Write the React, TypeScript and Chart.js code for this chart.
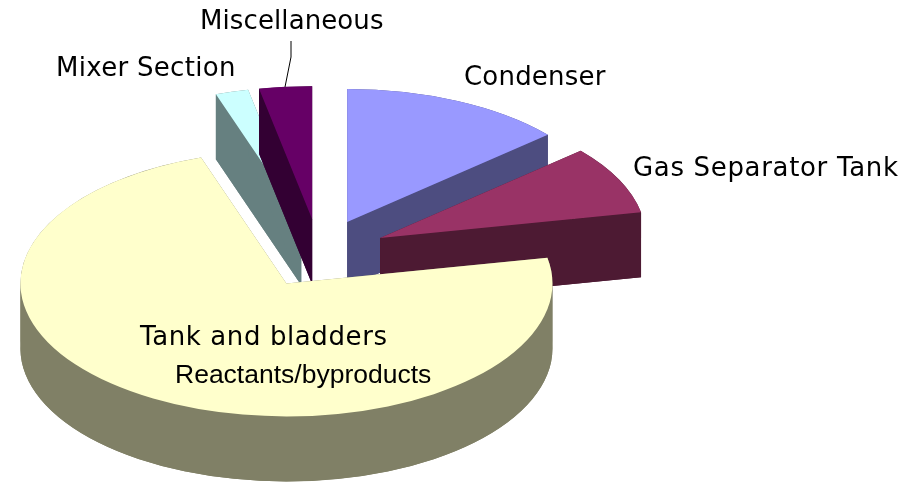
import React, { useEffect, useRef } from "react";
import { Chart, registerables } from "chart.js";

Chart.register(...registerables);

const categories = ["Condenser", "Gas Separator Tank", "Tank and bladders", "Mixer Section", "Miscellaneous"];
const values = [13.6, 8.3, 72.9, 2, 3.2];
const topColors = ["#9999FF", "#993366", "#FFFFCC", "#CCFFFF", "#660066"];
const sideColors = ["#4D4D80", "#4D1A33", "#808066", "#668080", "#330033"];
const extraLabel = "Reactants/byproducts";

// view of the tilted pie
const CENTER_X = 319;
const CENTER_Y = 253;
const TILT = 0.5;
const RADIUS = 266;
const EXPLODE = 68;
const DEPTH = 65;
const PAINT_ORDER = [0, 1, 3, 4, 2];
const NUDGE: Record<number, [number, number]> = { 2: [1.5, 1] };

const LABEL_FONT = '26px "DejaVu Sans"';
const LABEL_SPOTS: Record<string, [number, number, string]> = {
  Condenser: [464, 85, "0.2px"],
  "Gas Separator Tank": [633, 176, "0.67px"],
  "Tank and bladders": [140, 345, "0.6px"],
  "Mixer Section": [56, 76, "0.3px"],
  Miscellaneous: [200, 29, "0.1px"],
};

const tiltedPie = {
  id: "tiltedPie",
  beforeDatasetDraw(chart: any, args: any) {
    const { ctx } = chart;
    const arcs = args.meta.data;
    for (const i of PAINT_ORDER) {
      const arc = arcs[i];
      const mid = (arc.startAngle + arc.endAngle) / 2;
      const [nx, ny] = NUDGE[i] || [0, 0];
      const ox = CENTER_X + Math.cos(mid) * EXPLODE + nx;
      const oy = CENTER_Y + Math.sin(mid) * EXPLODE * TILT + ny;
      const r = arc.outerRadius;
      const ry = r * TILT;
      const a0 = arc.startAngle;
      const a1 = arc.endAngle;
      ctx.save();
      ctx.fillStyle = sideColors[i];
      // bottom face
      ctx.beginPath();
      ctx.moveTo(ox, oy + DEPTH);
      ctx.ellipse(ox, oy + DEPTH, r, ry, 0, a0, a1);
      ctx.closePath();
      ctx.fill();
      // rim wall, split where the rim turns back horizontally
      const stops = [a0];
      for (let k = Math.ceil(a0 / Math.PI); k * Math.PI < a1; k++) {
        if (k * Math.PI > a0) stops.push(k * Math.PI);
      }
      stops.push(a1);
      for (let s = 0; s < stops.length - 1; s++) {
        ctx.beginPath();
        ctx.ellipse(ox, oy, r, ry, 0, stops[s], stops[s + 1]);
        ctx.ellipse(ox, oy + DEPTH, r, ry, 0, stops[s + 1], stops[s], true);
        ctx.closePath();
        ctx.fill();
      }
      // two cut walls
      for (const a of [a0, a1]) {
        const ex = ox + Math.cos(a) * r;
        const ey = oy + Math.sin(a) * ry;
        ctx.beginPath();
        ctx.moveTo(ox, oy);
        ctx.lineTo(ex, ey);
        ctx.lineTo(ex, ey + DEPTH);
        ctx.lineTo(ox, oy + DEPTH);
        ctx.closePath();
        ctx.fill();
      }
      ctx.restore();
      // top face: the library's own arc element
      ctx.save();
      ctx.translate(ox, oy);
      ctx.scale(1, TILT);
      ctx.translate(-arc.x, -arc.y);
      arc.draw(ctx);
      ctx.restore();
    }
    return false;
  },
  afterDatasetsDraw(chart: any) {
    const { ctx } = chart;
    ctx.save();
    ctx.strokeStyle = "#000000";
    ctx.lineWidth = 1;
    ctx.beginPath();
    ctx.moveTo(291, 41);
    ctx.lineTo(291, 57);
    ctx.lineTo(285, 87);
    ctx.stroke();
    ctx.fillStyle = "#000000";
    ctx.textBaseline = "alphabetic";
    ctx.textAlign = "left";
    ctx.font = LABEL_FONT;
    for (const name of categories) {
      const [x, y, spacing] = LABEL_SPOTS[name];
      ctx.letterSpacing = spacing;
      ctx.fillText(name, x, y);
    }
    ctx.letterSpacing = "0px";
    ctx.font = '26.5px "Liberation Sans"';
    ctx.fillText(extraLabel, 175, 383);
    ctx.restore();
  },
};

export default function App() {
  const ref = useRef<HTMLCanvasElement | null>(null);
  useEffect(() => {
    const chart = new Chart(ref.current as HTMLCanvasElement, {
      type: "pie",
      data: {
        labels: categories,
        datasets: [
          {
            data: values,
            backgroundColor: topColors,
            borderWidth: 0,
            radius: RADIUS,
            clip: false,
          } as any,
        ],
      },
      options: {
        responsive: false,
        animation: false,
        events: [],
        plugins: { legend: { display: false }, tooltip: { enabled: false } },
      },
      plugins: [tiltedPie],
    });
    return () => chart.destroy();
  }, []);
  return (
    <div style={{ position: "absolute", left: 0, top: 0, width: 913, height: 482, background: "#ffffff" }}>
      <canvas ref={ref} width={913} height={482} style={{ display: "block" }} />
    </div>
  );
}
